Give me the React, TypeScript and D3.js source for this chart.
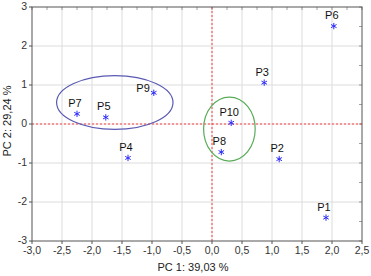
import React from "react";
import * as d3 from "d3";

const labels = ["P1", "P2", "P3", "P4", "P5", "P6", "P7", "P8", "P9", "P10"];
const pc1 = [1.9, 1.12, 0.87, -1.4, -1.77, 2.03, -2.25, 0.155, -0.97, 0.32];
const pc2 = [-2.4, -0.9, 1.06, -0.87, 0.17, 2.51, 0.26, -0.72, 0.8, 0.03];
const xTicks = [-3, -2.5, -2, -1.5, -1, -0.5, 0, 0.5, 1, 1.5, 2, 2.5];
const yTicks = [-3, -2, -1, 0, 1, 2, 3];
// ellipses: cx, cy, rx, ry (data units)
const ellipseCx = [-1.62, 0.29];
const ellipseCy = [0.55, -0.13];
const ellipseRx = [0.97, 0.43];
const ellipseRy = [0.69, 0.82];
const ellipseColors = ["#5a5ab4", "#5aac5a"];

const W = 371, H = 276;
const L = 32, R = 362, T = 7, B = 241;

export default function App() {
  const x = d3.scaleLinear().domain([-3, 2.5]).range([L, R]);
  const y = d3.scaleLinear().domain([-3, 3]).range([B, T]);
  const star = d3.symbol(d3.symbolAsterisk, 28)() as string;
  const fmt = (v: number) => v.toFixed(1).replace(".", ",");
  const font = "Liberation Sans, Arial, sans-serif";
  const minorX = d3.range(-3, 2.51, 0.25);
  const minorY = d3.range(-3, 3.01, 0.5);
  return (
    <svg width={W} height={H} style={{ position: "absolute", left: 0, top: 0, background: "#fff" }} fontFamily={font}>
      {xTicks.slice(1, -1).map((t) => (
        <line key={"gx" + t} x1={x(t)} x2={x(t)} y1={T} y2={B} stroke="#dcdcdc" strokeWidth={1} />
      ))}
      {yTicks.slice(1, -1).map((t) => (
        <line key={"gy" + t} x1={L} x2={R} y1={y(t)} y2={y(t)} stroke="#dcdcdc" strokeWidth={1} />
      ))}
      {minorX.map((t) => (
        <line key={"mx" + t} x1={x(t)} x2={x(t)} y1={T} y2={T + 3} stroke="#888" strokeWidth={0.8} />
      ))}
      {minorY.map((t) => (
        <line key={"my" + t} x1={R - 3} x2={R} y1={y(t)} y2={y(t)} stroke="#888" strokeWidth={0.8} />
      ))}
      <line x1={x(0)} x2={x(0)} y1={T} y2={B} stroke="#ff4040" strokeWidth={1} strokeDasharray="2,2" />
      <line x1={L} x2={R} y1={y(0)} y2={y(0)} stroke="#ff4040" strokeWidth={1} strokeDasharray="2,2" />
      {ellipseCx.map((cx, i) => (
        <ellipse
          key={"e" + i}
          cx={x(cx)}
          cy={y(ellipseCy[i])}
          rx={x(ellipseRx[i]) - x(0)}
          ry={y(0) - y(ellipseRy[i])}
          fill="none"
          stroke={ellipseColors[i]}
          strokeWidth={1.2}
        />
      ))}
      <rect x={L} y={T} width={R - L} height={B - T} fill="none" stroke="#555" strokeWidth={1} />
      {xTicks.map((t) => (
        <g key={"tx" + t}>
          <line x1={x(t)} x2={x(t)} y1={B} y2={B + 3} stroke="#555" />
          <text x={x(t)} y={B + 13} fontSize={10.5} textAnchor="middle" fill="#333">{fmt(t)}</text>
        </g>
      ))}
      {yTicks.map((t) => (
        <g key={"ty" + t}>
          <line x1={L - 3} x2={L} y1={y(t)} y2={y(t)} stroke="#555" />
          <text x={L - 5} y={y(t) + 3} fontSize={10.5} textAnchor="end" fill="#333">{t}</text>
        </g>
      ))}
      <text x={193} y={271} fontSize={11} textAnchor="middle" fill="#222">PC 1: 39,03 %</text>
      <text transform={`translate(11,121) rotate(-90)`} fontSize={11} textAnchor="middle" fill="#222">PC 2: 29,24 %</text>
      {labels.map((lab, i) => {
        const px = x(pc1[i]);
        const py = y(pc2[i]);
        const left = lab === "P9";
        return (
          <g key={lab}>
            <path d={star} transform={`translate(${px},${py})`} stroke="#2a2aff" strokeWidth={1} fill="none" />
            <text
              x={left ? px - 4 : px - 2}
              y={left ? py - 1 : py - 7}
              fontSize={11}
              textAnchor={left ? "end" : "middle"}
              fill="#111"
            >{lab}</text>
          </g>
        );
      })}
    </svg>
  );
}
